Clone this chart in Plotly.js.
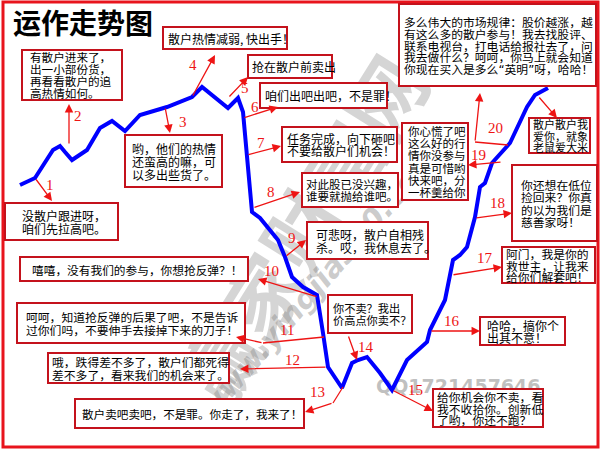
<!DOCTYPE html>
<html><head><meta charset="utf-8">
<script src="https://cdn.plot.ly/plotly-3.0.1.min.js"></script>
<style>html,body{margin:0;padding:0;background:#fff}
#wrap{position:relative;width:600px;height:450px}
#wm,#chart{position:absolute;left:0;top:0;width:600px;height:450px}</style>
</head><body><div id="wrap"><div id="wm"></div><div id="chart"></div></div>
<script>
// ---- data: the price path (step index -> price, drawn in the chart's own coordinate space)
const pathX = [20,35,53,60,65,72,87,100,112,125,140,167,192,202,228,238,243,252,260,270,278,285,292,303,317,323,328,342,352,358,367,380,392,407,427,430,440,445,453,460,467,475,480,485,492,503,510,527,535,548];
const pathY = [185,178,150,146,152,160,150,128,121,131,115,107,97,87,108,98,112,212,218,230,240,257,277,287,295,333,367,388,363,360,357,373,390,360,342,330,310,300,260,255,247,217,187,183,163,150,143,107,95,88];

const chartTitle = "运作走势图";
const Q1 = '<span style="font-family:\'DejaVu Sans\'">“</span>', Q2 = '<span style="font-family:\'DejaVu Sans\'">”</span>';
const boxTexts = [
  ["散户热情减弱, 快出手！"],
  ["有散户进来了，","出一小部份货，","再看看散户的追","高热情如何。"],
  ["抢在散户前卖出"],
  ["咱们出吧出吧，不是罪！"],
  ["多么伟大的市场规律：股价越涨，越","有这么多的散户参与！我去找股评、","联系电视台，打电话给报社去了，问","我去做什么？呵呵，你马上就会知道","你现在买入是多么"+Q1+"英明"+Q2+"呀，哈哈！"],
  ["散户散户我","爱你，就象","老鼠爱大米"],
  ["哟，他们的热情","还蛮高的嘛，可","以多出些货了。"],
  ["任务完成，向下砸吧","不要给散户们机会！"],
  ["对此股已没兴趣，","谁要就抛给谁吧。"],
  ["你心慌了吧","这么好的行","情你没参与","真是可惜哟","快来吧，分","一杯羹给你"],
  ["你还想在低位","捡回来？你真","的以为我们是","慈善家呀！"],
  ["没散户跟进呀，","咱们先拉高吧。"],
  ["可悲呀，散户自相残","杀。哎，我休息去了。"],
  ["阿门，我是你的","救世主，让我来","给你们解套吧！"],
  ["嘻嘻，没有我们的参与，你想抢反弹？！"],
  ["呵呵，知道抢反弹的后果了吧，不是告诉","过你们吗，不要伸手去接掉下来的刀子！"],
  ["你不卖？我出","价高点你卖不？"],
  ["哈哈，搞你个","出其不意！"],
  ["哦，跌得差不多了，散户们都死得","差不多了，看来我们的机会来了。"],
  ["散户卖吧卖吧，不是罪。你走了，我来了！"],
  ["给你机会你不卖，看","我不收拾你。创新低","了哟，你还不跑？"]
];
const stepLabels = ["1","2","3","4","5","6","7","8","9","10","11","12","13","14","15","16","17","18","19","20"];
const watermarkBig = "赢家财富网";
const watermarkUrl = "www.yingjia360.com";
const watermarkQQ = "QQ1721457646";

// ---- layout (positions / styles)
// box: [x0,y0,x1,y1,textX,linePitch,fontSize]
const boxGeom = [
  [163,27,287,49,166,12,12],
  [22,50,122,100,28,12,11.6],
  [248,55,332,78,250,12,12],
  [260,83,387,108,263,12,12],
  [399,4,596,86,402,11.8,11.8],
  [529,118,590,153,531,11.5,11],
  [125,135,222,187,130,13,12],
  [282,127,397,162,285,12.5,12],
  [302,173,398,207,304,12.5,11.5],
  [402,123,468,200,406,12.2,11.5],
  [512,165,597,241,519,12.5,11.8],
  [5,203,118,240,20,13,12],
  [307,222,428,259,314,13,12],
  [502,247,595,283,504,11.8,11.8],
  [20,257,248,281,30,12,11.7],
  [17,303,245,343,24,13,11.8],
  [328,295,412,333,331,12.5,11.2],
  [480,317,565,345,485,12,12],
  [48,353,229,383,50,12.5,11.8],
  [75,399,304,428,80,12,11.6],
  [433,389,543,427,435,11.8,11.8]
];
// arrows: [tailX,tailY,headX,headY]
const arrowGeom = [
  [35,178,52,201],[69,145,69,104],[165,107,170,133],[192,97,215,55],[228,98,248,77],
  [243,118,278,107],[247,155,281,146],[253,208,300,192],[285,257,306,240],[318,297,258,279],
  [263,343,236,337],[327,367,240,369],[333,403,305,412],[348,335,357,360],[392,390,433,411],
  [430,331,480,331],[452,275,502,267],[475,218,512,213],[502,162,468,165],[475,142,480,93],
  [538,96,557,118]
];
const extraSegs = [[324,337,263,343],[343,387,333,403],[508,145,475,142]];
const labelPos = [[50,185],[78,116],[183,122],[193,65],[245,88],[255,107],[261,143],[271,192],[292,238],[271,271],
  [287,330],[292,360],[317,392],[366,347],[415,390],[452,321],[485,258],[497,203],[478,155],[495,128]];

const RED = '#ee1414', BOXRED = '#c4121c', CJK = '"Noto Sans CJK SC", "Noto Sans", sans-serif';
const axes = {xaxis:{range:[0,600], visible:false, fixedrange:true}, yaxis:{range:[450,0], visible:false, fixedrange:true}};

// ---- underlay: watermark (hidden by the white boxes, as in the reference)
Plotly.newPlot('wm', [], Object.assign({
  width:600, height:450, margin:{l:0,r:0,t:0,b:0}, paper_bgcolor:'#fff', plot_bgcolor:'#fff', showlegend:false,
  annotations:[
    {x:300, y:228, xref:'x', yref:'y', text:'<b>'+watermarkBig+'</b>', showarrow:false, textangle:-58,
      font:{family:CJK, size:78, color:'rgba(150,150,150,0.40)'}},
    {x:318, y:282, xref:'x', yref:'y', text:'<b><i>'+watermarkUrl+'</i></b>', showarrow:false, textangle:-49,
      font:{family:'"DejaVu Sans", sans-serif', size:30, color:'rgba(140,140,140,0.45)'}},
    {x:458, y:386, xref:'x', yref:'y', text:'<b>'+watermarkQQ+'</b>', showarrow:false,
      font:{family:'"DejaVu Sans", sans-serif', size:19, color:'rgba(150,150,150,0.6)'}}
  ]}, axes), {displayModeBar:false, staticPlot:true});

// ---- main chart
const shapes = [];
const annotations = [];
shapes.push({type:'rect', xref:'x', yref:'y', x0:3, y0:2, x1:598, y1:447, line:{color:'#e8141c', width:3}, fillcolor:'rgba(0,0,0,0)', layer:'above'});

boxGeom.forEach((g, i) => {
  shapes.push({type:'rect', xref:'x', yref:'y', x0:g[0], y0:g[1], x1:g[2], y1:g[3], line:{color:BOXRED, width:2}, fillcolor:'#ffffff', layer:'above'});
  const lines = boxTexts[i];
  const cy = (g[1] + g[3]) / 2;
  lines.forEach((t, k) => {
    annotations.push({x:g[4], y: cy + (k - (lines.length - 1) / 2) * g[5], xref:'x', yref:'y', text:t, showarrow:false,
      xanchor:'left', yanchor:'middle', font:{family:CJK, size:g[6], color:'#000'}});
  });
});

extraSegs.forEach(s => shapes.push({type:'line', xref:'x', yref:'y', x0:s[0], y0:s[1], x1:s[2], y1:s[3], line:{color:RED, width:1.3}, layer:'above'}));

arrowGeom.forEach(a => annotations.push({x:a[2], y:a[3], ax:a[0], ay:a[1], xref:'x', yref:'y', axref:'x', ayref:'y', text:'',
  showarrow:true, arrowhead:2, arrowsize:1.3, arrowwidth:1.3, arrowcolor:RED, standoff:0, startstandoff:0}));

stepLabels.forEach((s, i) => annotations.push({x:labelPos[i][0], y:labelPos[i][1], xref:'x', yref:'y', text:s, showarrow:false,
  font:{family:'"Liberation Serif", "DejaVu Serif", serif', size:15, color:RED}}));

annotations.push({x:83, y:22, xref:'x', yref:'y', text:'<b>'+chartTitle+'</b>', showarrow:false, font:{family:CJK, size:28, color:'#000'}});

const trace = {x:pathX, y:pathY, type:'scatter', mode:'lines', line:{color:'#0000ff', width:4, shape:'linear'}, hoverinfo:'skip'};

Plotly.newPlot('chart', [trace], Object.assign({
  width:600, height:450, margin:{l:0, r:0, t:0, b:0}, paper_bgcolor:'rgba(0,0,0,0)', plot_bgcolor:'rgba(0,0,0,0)', showlegend:false,
  shapes, annotations
}, axes), {displayModeBar:false, staticPlot:true});
</script>
</body></html>
